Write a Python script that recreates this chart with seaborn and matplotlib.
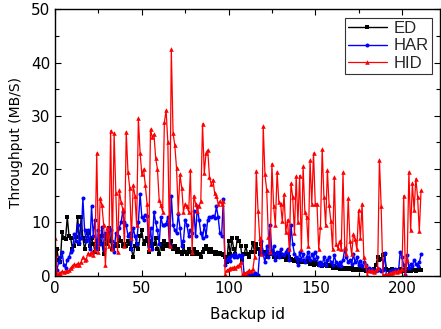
import numpy as np
import pandas as pd
import seaborn as sns
import matplotlib
matplotlib.use("Agg")
import matplotlib.pyplot as plt
from matplotlib.ticker import MultipleLocator

sns.set_theme(style="ticks")
plt.rcParams["font.family"] = ["DejaVu Sans"]

ed = [
    0.3, 5.0, 3.0, 2.5, 8.2, 7.0, 6.8, 11.0, 7.5, 7.0,
    5.0, 5.5, 7.2, 11.0, 6.0, 11.0, 7.0, 5.0, 6.5, 8.0,
    5.5, 7.0, 6.0, 4.5, 6.5, 5.0, 7.5, 6.0, 4.0, 7.5,
    6.0, 9.0, 6.5, 5.0, 5.5, 6.0, 5.5, 7.0, 6.5, 5.5,
    6.0, 5.5, 6.5, 6.0, 5.0, 3.5, 5.5, 6.0, 5.0, 7.5,
    8.5, 6.0, 6.5, 7.0, 4.5, 6.5, 5.5, 6.0, 7.0, 5.0,
    4.0, 6.0, 5.0, 6.5, 5.5, 6.0, 5.5, 6.5, 5.0, 5.5,
    4.5, 5.0, 4.5, 4.0, 5.5, 4.5, 4.0, 5.0, 4.5, 4.0,
    5.0, 4.0, 4.5, 4.0, 3.5, 4.5, 5.0, 5.5, 5.0, 4.5,
    5.0, 4.5, 4.0, 4.5, 4.0, 4.2, 4.0, 3.8, 3.5, 2.5,
    6.5, 4.0, 7.0, 5.0, 4.0, 7.0, 6.5, 5.5, 3.0, 4.0,
    5.5, 4.0, 3.5, 4.5, 6.2, 4.5, 6.0, 5.0, 4.0, 6.0,
    4.5, 4.0, 4.5, 3.5, 4.0, 4.5, 3.5, 4.0, 3.5, 4.2,
    3.5, 3.8, 3.5, 3.0, 3.8, 3.5, 3.2, 3.0, 2.8, 3.2,
    2.5, 3.0, 2.5, 2.8, 2.5, 2.5, 2.8, 2.2, 2.5, 2.0,
    2.5, 2.2, 2.0, 2.2, 1.8, 2.0, 2.2, 1.8, 2.0, 1.8,
    1.5, 1.8, 1.5, 1.6, 1.2, 1.4, 1.2, 1.5, 1.3, 1.5,
    1.2, 1.4, 1.1, 1.3, 1.0, 1.2, 1.0, 1.1, 1.0, 0.9,
    1.0, 0.8, 1.0, 0.9, 1.2, 2.0, 3.5, 3.0, 3.2, 3.8,
    4.0, 1.2, 1.0, 0.9, 1.2, 1.0, 0.8, 1.0, 0.9, 1.2,
    1.0, 0.8, 1.0, 0.9, 1.2, 0.8, 1.0, 1.1, 0.9, 1.0,
    1.2, 1.0,
]

har = [
    3.0, 1.0, 2.5, 3.5, 4.5, 2.0, 1.5, 3.0, 3.5, 4.5,
    4.8, 7.8, 6.5, 9.5, 6.2, 7.0, 14.5, 8.5, 6.5, 8.5,
    5.0, 13.0, 7.5, 10.5, 5.0, 8.5, 6.0, 9.2, 5.0, 8.0,
    7.0, 9.0, 8.5, 6.5, 4.5, 8.0, 7.5, 9.0, 10.0, 12.0,
    10.0, 9.5, 7.5, 8.0, 5.0, 9.0, 7.5, 6.0, 10.0, 15.3,
    11.0, 10.5, 11.3, 11.2, 5.5, 9.0, 5.0, 12.0, 10.0, 8.5,
    6.0, 11.0, 9.5, 9.5, 9.7, 11.0, 5.5, 15.0, 9.5, 8.5,
    8.0, 11.5, 9.0, 5.5, 6.5, 10.5, 9.5, 7.5, 8.5, 8.0,
    12.2, 7.5, 13.0, 10.5, 8.0, 7.0, 9.5, 7.5, 10.5, 11.0,
    11.0, 11.2, 10.8, 13.0, 11.0, 8.0, 7.5, 14.3, 2.0, 3.0,
    3.5, 2.8, 3.8, 3.5, 4.0, 3.6, 3.8, 3.5, 3.8, 0.3,
    0.3, 0.2, 0.4, 0.3, 0.3, 0.5, 0.3, 0.2, 4.5, 6.5,
    4.0, 2.5, 5.5, 3.5, 9.5, 4.0, 5.5, 3.0, 4.5, 3.5,
    5.0, 4.0, 3.8, 4.5, 5.0, 3.0, 9.5, 6.0, 4.0, 3.5,
    2.0, 4.5, 3.0, 4.0, 2.5, 3.5, 4.5, 3.0, 4.0, 3.2,
    4.5, 3.5, 2.0, 2.5, 2.0, 3.5, 2.0, 3.0, 3.5, 2.5,
    2.0, 3.8, 2.5, 2.0, 2.5, 1.8, 3.0, 5.0, 3.5, 2.5,
    3.0, 2.2, 4.0, 2.5, 3.5, 2.0, 2.8, 1.8, 2.5, 2.0,
    1.0, 1.5, 0.8, 1.2, 1.0, 0.8, 1.0, 1.2, 0.8, 1.0,
    4.3, 0.1, 0.2, 0.8, 1.0, 0.8, 1.2, 1.0, 0.8, 4.5,
    3.5, 2.0, 0.1, 3.8, 1.5, 2.2, 1.8, 3.0, 2.2, 1.8,
    2.5, 4.0,
]

hid = [
    7.0, 0.3, 0.5, 0.6, 0.8, 0.7, 0.9, 0.8, 1.0, 1.5,
    1.8, 2.2, 2.0, 2.3, 2.1, 2.6, 3.5, 3.0, 3.2, 4.2,
    4.0, 4.5, 3.8, 4.8, 23.0, 4.5, 14.5, 13.2, 9.5, 2.0,
    9.0, 5.5, 27.2, 5.0, 26.8, 15.5, 4.5, 16.0, 13.8, 12.5,
    5.5, 27.0, 19.5, 16.5, 7.0, 17.0, 15.0, 9.5, 29.5, 23.0,
    19.0, 20.0, 17.0, 13.5, 5.0, 27.5, 26.0, 26.5, 22.0, 20.0,
    14.2, 13.2, 12.0, 28.8, 31.0, 25.0, 5.5, 42.5, 26.8, 24.5,
    20.2, 12.0, 19.0, 16.5, 12.0, 13.5, 13.0, 12.0, 19.8, 4.5,
    15.0, 13.5, 12.2, 13.0, 14.0, 28.5, 19.2, 23.0, 23.6, 18.5,
    17.2, 18.0, 15.5, 15.0, 13.5, 14.0, 13.5, 14.0, 0.3, 1.0,
    1.2, 1.4, 1.5, 1.6, 1.5, 1.8, 2.0, 2.5, 0.1, 0.5,
    0.6, 0.8, 1.0, 0.8, 1.2, 3.5, 19.7, 12.2, 7.0, 4.0,
    28.0, 19.0, 16.0, 7.2, 4.5, 21.0, 13.0, 9.5, 19.5, 13.8,
    13.5, 10.2, 15.3, 8.2, 10.5, 5.0, 17.3, 14.8, 8.0, 18.7,
    10.0, 18.8, 5.0, 20.5, 12.0, 11.0, 5.5, 21.7, 13.5, 23.0,
    13.5, 13.5, 5.0, 9.2, 23.7, 14.8, 9.5, 19.8, 13.2, 10.2,
    5.0, 18.5, 6.0, 5.2, 6.5, 5.0, 19.4, 5.2, 4.0, 14.5,
    6.5, 4.0, 7.8, 6.8, 5.0, 12.3, 7.0, 13.5, 3.5, 2.0,
    0.1, 1.0, 0.8, 1.0, 0.7, 1.0, 1.5, 21.8, 13.0, 0.1,
    0.2, 0.3, 0.2, 0.5, 0.6, 0.7, 0.8, 0.7, 1.0, 0.8,
    1.2, 15.0, 0.1, 3.0, 19.5, 8.5, 17.3, 12.3, 18.2, 14.8,
    8.3, 16.0,
]

backup_id = list(range(len(hid)))

fig = plt.figure(figsize=(4.41, 3.29), dpi=100)
ax = fig.add_axes([0.125, 0.162, 0.873, 0.81])

sns.lineplot(x=backup_id, y=ed, ax=ax, color="black", marker="s", markersize=2.7,
             markeredgewidth=0, linewidth=1.0, label="ED")
sns.lineplot(x=backup_id, y=har, ax=ax, color="blue", marker="o", markersize=2.9,
             markeredgewidth=0, linewidth=1.0, label="HAR")
sns.lineplot(x=backup_id, y=hid, ax=ax, color="red", marker="^", markersize=3.3,
             markeredgewidth=0, linewidth=0.9, label="HID")

ax.set_xlim(0, 222)
ax.set_ylim(0, 50)
ax.xaxis.set_major_locator(MultipleLocator(50))
ax.xaxis.set_minor_locator(MultipleLocator(25))
ax.yaxis.set_major_locator(MultipleLocator(10))
ax.yaxis.set_minor_locator(MultipleLocator(5))
ax.tick_params(which="both", direction="in", top=True, right=True,
               colors="black", labelsize=11, width=0.8)
ax.tick_params(which="major", length=4)
ax.tick_params(which="minor", length=3)
for s in ax.spines.values():
    s.set_color("black")
    s.set_linewidth(1.0)

ax.set_xlabel("Backup id", fontsize=11, color="black", labelpad=8)
ax.set_ylabel("Throughput (MB/S)", fontsize=10, color="black", labelpad=6)

leg = ax.legend(loc="upper right", frameon=True, fancybox=False,
                prop={"family": "Liberation Sans", "size": 12},
                handlelength=2.3, borderpad=0.2, labelspacing=0.15,
                handletextpad=0.4, borderaxespad=0.5)
leg.get_frame().set_edgecolor("black")
leg.get_frame().set_linewidth(0.8)

fig.savefig("out.png", dpi=100)
